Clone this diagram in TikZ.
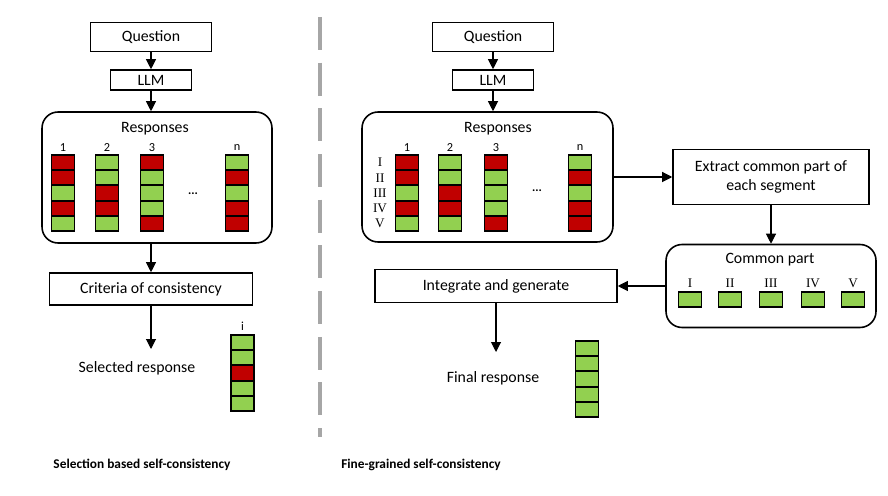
\documentclass[tikz,border=0pt]{standalone}
\usepackage{fontspec}
\setmainfont{Carlito}
\newfontfamily\romanfont{Liberation Serif}
\usetikzlibrary{arrows.meta,positioning}

\definecolor{cellred}{HTML}{C00000}
\definecolor{cellgreen}{HTML}{92D050}
\definecolor{divgray}{HTML}{A6A6A6}

\tikzset{
  box/.style={draw,line width=0.9pt,inner sep=0pt,font=\fontsize{9}{11}\selectfont,align=center},
  rbox/.style={draw,line width=0.9pt,rounded corners=0.32cm,inner sep=0pt},
  title/.style={font=\fontsize{9}{11}\selectfont},
  cell/.style={draw,line width=1.1pt,fill=#1,minimum width=0.46cm,minimum height=0.304cm,inner sep=0pt},
  collabel/.style={font=\fontsize{7}{8}\selectfont},
  seglabel/.style={font=\romanfont\fontsize{7.5}{8}\selectfont},
  arr/.style={line width=0.6pt,-{Triangle[length=0.2cm,width=0.2cm]}},
  caption/.style={font=\bfseries\fontsize{7.6}{9}\selectfont},
  divider/.style={draw=divgray,line width=2.6pt,dash pattern=on 18.8pt off 7.2pt}
}

\begin{document}
\begin{tikzpicture}[x=0.02cm,y=-0.02cm]
  \useasboundingbox (0,0) rectangle (888,496);

  % left: selection based
  \node[box,minimum width=2.42cm,minimum height=0.58cm] (q1) at (151,37) {Question};
  \node[box,minimum width=1.62cm,minimum height=0.40cm] (llm1) at (151,80) {LLM};
  \node[rbox,minimum width=4.6cm,minimum height=2.62cm] (resp1) at (157,177.5) {};
  \node[title] (rt1) at (155,129) {Responses};
  \foreach \x/\lab/\cols in {63/1/{cellred,cellred,cellgreen,cellred,cellgreen},
                             107/2/{cellgreen,cellgreen,cellred,cellred,cellgreen},
                             152/3/{cellred,cellgreen,cellgreen,cellgreen,cellred},
                             237/n/{cellgreen,cellred,cellgreen,cellred,cellred}}{
    \node[collabel] (l1-\lab) at (\x,148) {\lab};
    \foreach \c [count=\k] in \cols
      \node[cell=\c] (a\lab-\k) at (\x,147.4+15.2*\k) {};
  }
  \node (dots1) at (193,194) {\textbf{\scriptsize ...}};
  \node[box,minimum width=4.06cm,minimum height=0.64cm] (crit) at (151,289) {Criteria of consistency};
  \node[title] (sel) at (137,368) {Selected response};
  \coordinate (selend) at (151,349);
  \node[collabel] (li) at (242.5,326) {i};
  \foreach \c [count=\k] in {cellgreen,cellgreen,cellred,cellgreen,cellgreen}
    \node[cell=\c] (s-\k) at (242.5,327.4+15.2*\k) {};

  \draw[arr] (q1) -- (llm1);
  \draw[arr] (llm1.south) -- (llm1.south |- resp1.north);
  \draw[arr] (resp1.south -| crit.north) -- (crit.north);
  \draw[arr] (crit.south) -- (selend);

  % divider
  \draw[divider] (320,17) -- (320,437);

  % right: fine-grained
  \node[box,minimum width=2.42cm,minimum height=0.58cm] (q2) at (493,37) {Question};
  \node[box,minimum width=1.62cm,minimum height=0.40cm] (llm2) at (493,80) {LLM};
  \node[rbox,minimum width=5.02cm,minimum height=2.6cm] (resp2) at (487.5,177) {};
  \node[title] (rt2) at (498,129) {Responses};
  \foreach \seg [count=\k] in {I,II,III,IV,V}
    \node[seglabel] (seg-\k) at (380,147.4+15.2*\k) {\seg};
  \foreach \x/\lab/\cols in {407/1/{cellred,cellred,cellgreen,cellred,cellgreen},
                             450/2/{cellgreen,cellgreen,cellred,cellred,cellgreen},
                             496/3/{cellred,cellgreen,cellgreen,cellgreen,cellred},
                             580/n/{cellgreen,cellred,cellgreen,cellred,cellred}}{
    \node[collabel] (l2-\lab) at (\x,148) {\lab};
    \foreach \c [count=\k] in \cols
      \node[cell=\c] (b\lab-\k) at (\x,147.4+15.2*\k) {};
  }
  \node (dots2) at (537,191) {\textbf{\scriptsize ...}};
  \node[box,minimum width=3.92cm,minimum height=1.1cm] (extr) at (771,177) {Extract common part of\\each segment};
  \node[rbox,minimum width=4.2cm,minimum height=1.66cm] (comm) at (771,286) {};
  \node[title] (ct) at (770,260) {Common part};
  \foreach \x/\seg in {690/I,730/II,771/III,813/IV,853/V}{
    \node[seglabel] (cl-\seg) at (\x,283) {\seg};
    \node[cell=cellgreen] (c-\seg) at (\x,299.5) {};
  }
  \node[box,minimum width=4.84cm,minimum height=0.66cm] (integ) at (496,286) {Integrate and generate};
  \node[title] (fin) at (493,378) {Final response};
  \coordinate (finend) at (496,352);
  \foreach \k in {1,...,5}
    \node[cell=cellgreen] (f-\k) at (587,333.4+15.2*\k) {};

  \draw[arr] (q2) -- (llm2);
  \draw[arr] (llm2.south) -- (llm2.south |- resp2.north);
  \draw[arr] (resp2.east) -- (extr.west);
  \draw[arr] (extr.south) -- (comm.north);
  \draw[arr] (comm.west) -- (integ.east);
  \draw[arr] (integ.south) -- (finend);

  % captions
  \node[caption] (cap1) at (142,465) {Selection based self-consistency};
  \node[caption] (cap2) at (421,465) {Fine-grained self-consistency};
\end{tikzpicture}
\end{document}
